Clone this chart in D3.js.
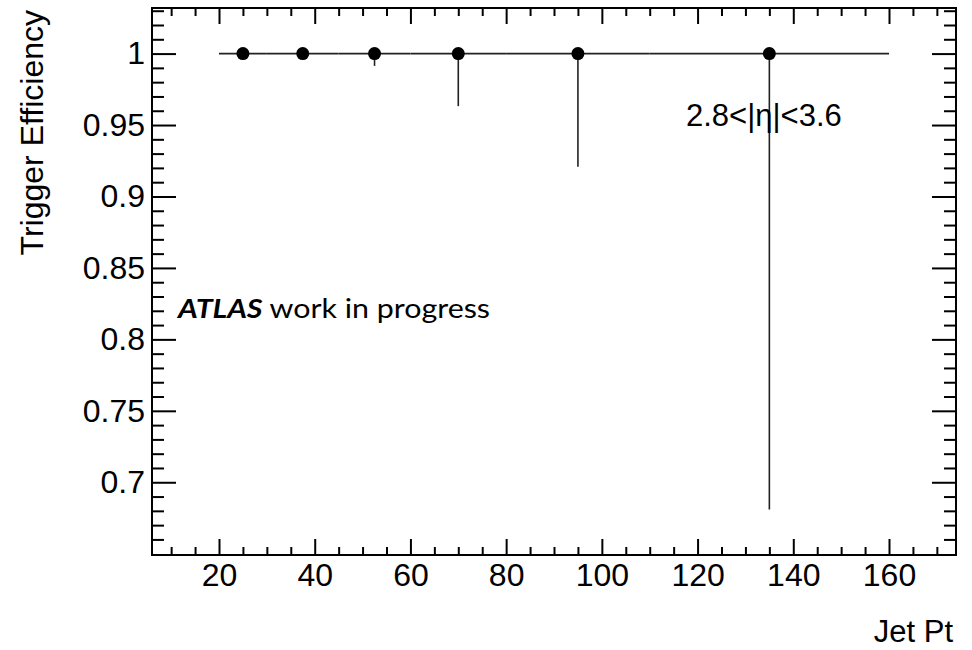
<!DOCTYPE html>
<html>
<head>
<meta charset="utf-8">
<script src="https://cdn.jsdelivr.net/npm/d3@7"></script>
<style>
  html, body { margin: 0; padding: 0; background: #fff; }
  svg { display: block; }
</style>
</head>
<body>
<svg id="chart" width="972" height="650"></svg>
<script>
// Trigger efficiency per jet-pT bin (asymmetric errors, upper error zero)
const binLow    = [20, 30, 45, 60, 80, 110];
const binHigh   = [30, 45, 60, 80, 110, 160];
const binCenter = [25, 37.5, 52.5, 70, 95, 135];
const efficiency = [1, 1, 1, 1, 1, 1];
const errLow    = [0, 0, 0.0086, 0.0368, 0.0792, 0.319];
const errHigh   = [0, 0, 0, 0, 0, 0];

const xTickValues = [20, 40, 60, 80, 100, 120, 140, 160];
const yTickValues = [0.7, 0.75, 0.8, 0.85, 0.9, 0.95, 1];
const xDomain = [6, 174];
const yDomain = [0.6491, 1.0319];

const svg = d3.select("#chart");
const frame = { left: 152, right: 956, top: 8, bottom: 555 };

const x = d3.scaleLinear().domain(xDomain).range([frame.left, frame.right]);
const y = d3.scaleLinear().domain(yDomain).range([frame.bottom, frame.top]);

const fontMain = "'Liberation Sans', Arial, Helvetica, sans-serif";

// minor tick positions
const xMinor = d3.range(10, 174, 5).filter(v => v % 20 !== 0);
const yMinor = d3.range(65, 104, 1).map(v => v / 100).filter(v => Math.round(v * 100) % 5 !== 0);

function styleAxis(g) {
  g.select(".domain").remove();
  g.selectAll(".tick line").attr("stroke", "#000").attr("stroke-width", 2);
  g.selectAll(".tick text").attr("font-family", fontMain).attr("font-size", 32).attr("fill", "#000");
}

// bottom axis: major with labels, minor without
svg.append("g").attr("transform", `translate(0,${frame.bottom})`)
  .call(d3.axisBottom(x).tickValues(xMinor).tickSize(-8).tickFormat(""))
  .call(styleAxis);
svg.append("g").attr("transform", `translate(0,${frame.bottom})`)
  .call(d3.axisBottom(x).tickValues(xTickValues).tickSize(-16).tickPadding(8).tickFormat(d3.format("d")))
  .call(styleAxis)
  .selectAll(".tick text").attr("dy", "0.72em");

// top axis (mirror ticks)
svg.append("g").attr("transform", `translate(0,${frame.top})`)
  .call(d3.axisTop(x).tickValues(xMinor).tickSize(-8).tickFormat(""))
  .call(styleAxis);
svg.append("g").attr("transform", `translate(0,${frame.top})`)
  .call(d3.axisTop(x).tickValues(xTickValues).tickSize(-16).tickFormat(""))
  .call(styleAxis);

// left axis
svg.append("g").attr("transform", `translate(${frame.left},0)`)
  .call(d3.axisLeft(y).tickValues(yMinor).tickSize(-12).tickFormat(""))
  .call(styleAxis);
svg.append("g").attr("transform", `translate(${frame.left},0)`)
  .call(d3.axisLeft(y).tickValues(yTickValues).tickSize(-24).tickPadding(7).tickFormat(d => d3.format("")(+d.toFixed(2))))
  .call(styleAxis);

// right axis (mirror ticks)
svg.append("g").attr("transform", `translate(${frame.right},0)`)
  .call(d3.axisRight(y).tickValues(yMinor).tickSize(-12).tickFormat(""))
  .call(styleAxis);
svg.append("g").attr("transform", `translate(${frame.right},0)`)
  .call(d3.axisRight(y).tickValues(yTickValues).tickSize(-24).tickFormat(""))
  .call(styleAxis);

// frame
svg.append("rect")
  .attr("x", frame.left).attr("y", frame.top)
  .attr("width", frame.right - frame.left).attr("height", frame.bottom - frame.top)
  .attr("fill", "none").attr("stroke", "#000").attr("stroke-width", 2);

// data points with error bars
const pts = binCenter.map((c, i) => ({
  x: c, xl: binLow[i], xh: binHigh[i], y: efficiency[i],
  yl: efficiency[i] - errLow[i], yh: efficiency[i] + errHigh[i]
}));

const gPts = svg.append("g");
gPts.selectAll("line.xerr").data(pts).join("line").attr("class", "xerr")
  .attr("x1", d => x(d.xl)).attr("x2", d => x(d.xh))
  .attr("y1", d => y(d.y)).attr("y2", d => y(d.y))
  .attr("stroke", "#222").attr("stroke-width", 1.6);
gPts.selectAll("line.yerr").data(pts.filter(d => d.yl < d.y)).join("line").attr("class", "yerr")
  .attr("x1", d => x(d.x)).attr("x2", d => x(d.x))
  .attr("y1", d => y(d.yh)).attr("y2", d => y(d.yl))
  .attr("stroke", "#222").attr("stroke-width", 1.6);
gPts.selectAll("circle").data(pts).join("circle")
  .attr("cx", d => x(d.x)).attr("cy", d => y(d.y)).attr("r", 6.5)
  .attr("fill", "#000");

// axis titles
svg.append("text")
  .attr("x", 953).attr("y", 642)
  .attr("text-anchor", "end")
  .attr("font-family", fontMain).attr("font-size", 31)
  .text("Jet Pt");

svg.append("text")
  .attr("transform", "translate(43,10) rotate(-90)")
  .attr("text-anchor", "end")
  .attr("font-family", fontMain).attr("font-size", 32)
  .text("Trigger Efficiency");

// region label
svg.append("text")
  .attr("x", 686).attr("y", 126)
  .attr("font-family", fontMain).attr("font-size", 31)
  .text("2.8<|η|<3.6");

// experiment label
const atlas = svg.append("text")
  .attr("x", 178).attr("y", 318)
  .attr("textLength", 312).attr("lengthAdjust", "spacingAndGlyphs")
  .attr("font-family", "Lato, 'Open Sans', sans-serif").attr("font-size", 26);
atlas.append("tspan").attr("font-weight", "bold").attr("font-style", "italic").text("ATLAS");
atlas.append("tspan").text(" work in progress");
</script>
</body>
</html>
